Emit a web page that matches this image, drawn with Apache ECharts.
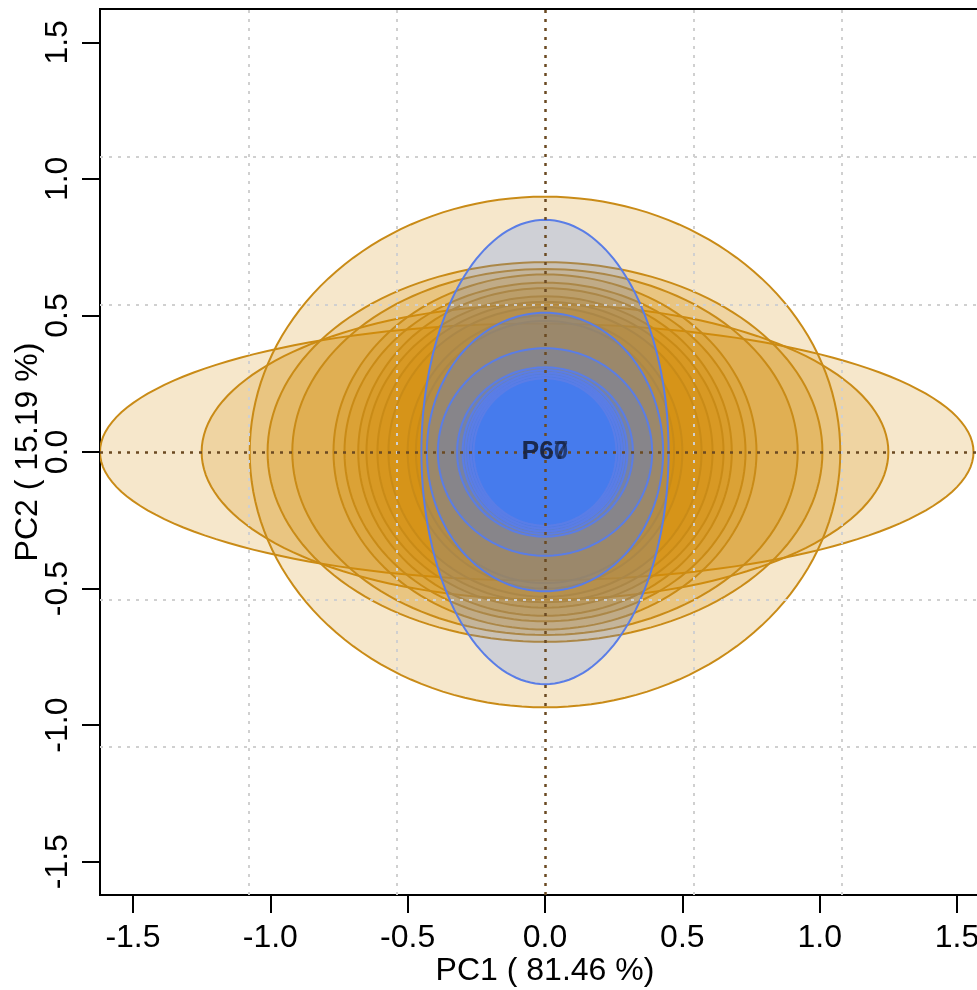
<!DOCTYPE html>
<html>
<head>
<meta charset="utf-8">
<script src="https://cdn.jsdelivr.net/npm/echarts@6/dist/echarts.min.js"></script>
<style>
  html, body { margin: 0; padding: 0; background: #fff; }
  #chart { width: 977px; height: 990px; }
</style>
</head>
<body>
<div id="chart"></div>
<script>
// axis ticks and dotted reference lines
const xTicks = [-1.5, -1.0, -0.5, 0.0, 0.5, 1.0, 1.5];
const yTicks = [-1.5, -1.0, -0.5, 0.0, 0.5, 1.0, 1.5];
const gridX = [-1.082, -0.541, 0.541, 1.082];
const gridY = [-1.082, -0.541, 0.541, 1.082];

// orange group ellipses: center x, center y, radius x, radius y
const orangeCx = [-0.03, 0, 0, 0, 0, 0, 0, 0, 0, 0, 0, 0, 0];
const orangeCy = [0, 0, 0, 0, 0, 0, 0, 0, 0, 0, 0, 0, 0];
const orangeRx = [1.59, 1.25, 1.075, 1.01, 0.92, 0.77, 0.73, 0.68, 0.65, 0.61, 0.57, 0.50, 0.47];
const orangeRy = [0.47, 0.54, 0.935, 0.695, 0.67, 0.65, 0.62, 0.60, 0.57, 0.55, 0.53, 0.50, 0.48];

// blue group ellipses
const blueCx = [0, 0, 0, 0, 0, 0, 0, 0, 0, 0, 0];
const blueCy = [0, 0, 0, 0, 0, 0, 0, 0, 0, 0, 0];
const blueRx = [0.45, 0.43, 0.39, 0.32, 0.30, 0.29, 0.28, 0.28, 0.27, 0.27, 0.26];
const blueRy = [0.85, 0.51, 0.38, 0.31, 0.30, 0.29, 0.29, 0.28, 0.28, 0.27, 0.27];

// point labels
const pointNames = ['P60', 'P67'];
const pointX = [0, 0];
const pointY = [0, 0];

const FONT = 'Liberation Sans, Arial, sans-serif';

function zip4(a, b, c, d) {
  return a.map((v, i) => [v, b[i], c[i], d[i]]);
}

function ellipseRenderer(fill, stroke) {
  return function (params, api) {
    const cx = api.value(0), cy = api.value(1);
    const rx = api.value(2), ry = api.value(3);
    const pts = [];
    const n = 160;
    for (let k = 0; k < n; k++) {
      const t = (k / n) * Math.PI * 2;
      pts.push(api.coord([cx + rx * Math.cos(t), cy + ry * Math.sin(t)]));
    }
    return {
      type: 'polygon',
      shape: { points: pts },
      style: { fill: fill, stroke: stroke, lineWidth: 2 }
    };
  };
}

const chart = echarts.init(document.getElementById('chart'));

const option = {
  animation: false,
  backgroundColor: '#fff',
  grid: {
    left: 100, right: -13, top: 9, bottom: 95,
    containLabel: false, outerBoundsMode: 'none',
    show: true, borderColor: '#000', borderWidth: 2, backgroundColor: 'transparent'
  },
  xAxis: {
    type: 'value', min: -1.62, max: 1.62,
    name: 'PC1 ( 81.46 %)', nameLocation: 'middle', nameGap: 60, nameMoveOverlap: false,
    nameTextStyle: { fontFamily: FONT, fontSize: 32, color: '#000' },
    axisLine: { show: true, onZero: false, lineStyle: { color: '#000', width: 2 } },
    axisTick: { show: true, length: 18, lineStyle: { color: '#000', width: 2 }, customValues: xTicks },
    axisLabel: {
      customValues: xTicks, margin: 27, fontFamily: FONT, fontSize: 32, color: '#000',
      formatter: v => v.toFixed(1)
    },
    splitLine: { show: false }
  },
  yAxis: {
    type: 'value', min: -1.622, max: 1.622,
    name: 'PC2 ( 15.19 %)', nameLocation: 'middle', nameGap: 56, nameRotate: 90, nameMoveOverlap: false,
    nameTextStyle: { fontFamily: FONT, fontSize: 32, color: '#000' },
    axisLine: { show: true, onZero: false, lineStyle: { color: '#000', width: 2 } },
    axisTick: { show: true, length: 18, lineStyle: { color: '#000', width: 2 }, customValues: yTicks },
    axisLabel: {
      customValues: yTicks, margin: 26, rotate: 90, fontFamily: FONT, fontSize: 32, color: '#000',
      formatter: v => v.toFixed(1)
    },
    splitLine: { show: false }
  },
  series: [
    {
      type: 'custom', name: 'orange', clip: true, z: 2,
      renderItem: ellipseRenderer('rgba(214,140,8,0.21)', '#c98b17'),
      encode: { x: 0, y: 1 },
      data: zip4(orangeCx, orangeCy, orangeRx, orangeRy)
    },
    {
      type: 'custom', name: 'blue', clip: true, z: 3,
      renderItem: ellipseRenderer('rgba(62,122,255,0.21)', '#5a7de6'),
      encode: { x: 0, y: 1 },
      data: zip4(blueCx, blueCy, blueRx, blueRy)
    },
    {
      type: 'line', name: 'grid', z: 4, data: [], silent: true,
      markLine: {
        silent: true, symbol: 'none', label: { show: false },
        lineStyle: { color: '#d0d0d0', width: 2, type: [3, 6] },
        data: gridX.map(v => ({ xAxis: v })).concat(gridY.map(v => ({ yAxis: v })))
      }
    },
    {
      type: 'line', name: 'zero', z: 5, data: [], silent: true,
      markLine: {
        silent: true, symbol: 'none', label: { show: false },
        lineStyle: { color: '#6b4a22', width: 2.5, type: [3, 6] },
        data: [{ xAxis: 0 }, { yAxis: 0 }]
      }
    },
    {
      type: 'scatter', name: 'points', z: 6, symbolSize: 0,
      data: pointX.map((x, i) => [x, pointY[i], pointNames[i]]),
      label: {
        show: true, position: 'inside', formatter: p => p.value[2],
        fontFamily: FONT, fontSize: 26, fontWeight: 'bold', color: 'rgba(22,32,62,0.85)'
      }
    }
  ]
};

chart.setOption(option);
</script>
</body>
</html>
